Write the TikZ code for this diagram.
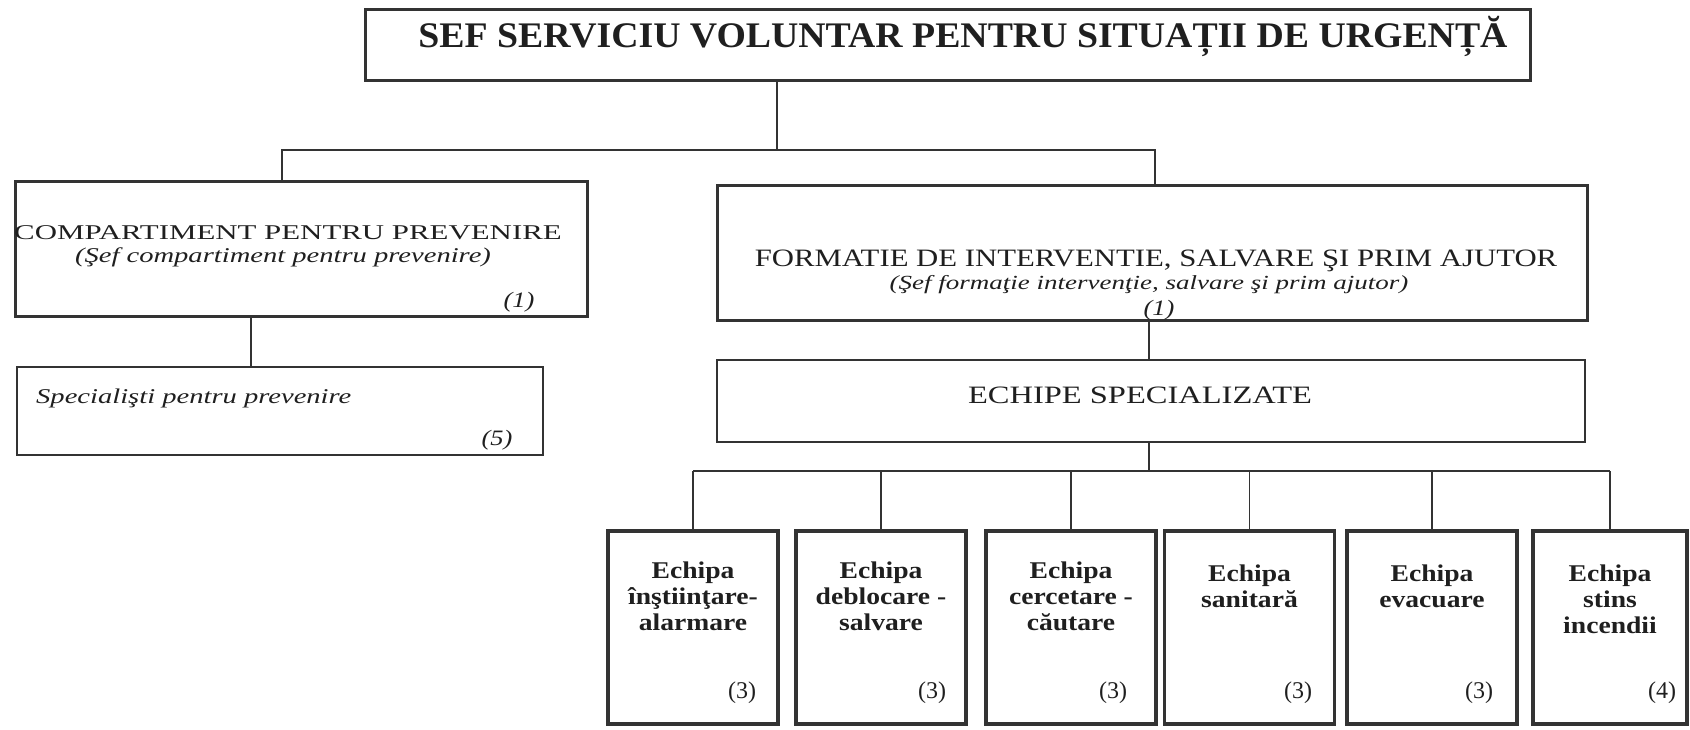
\documentclass[tikz,border=0pt]{standalone}
\usepackage{fontspec}
\setmainfont{Liberation Serif}
\usepackage{graphicx}
\newcommand\sx[2]{\scalebox{#1}[1]{#2}}
\newcommand\fs[1]{\fontsize{#1pt}{#1pt}\selectfont}
\begin{document}
\begin{tikzpicture}[x=1pt,y=-1pt,
  thickbox/.style={draw=black!80,line width=3pt,inner sep=0pt,outer sep=0pt,rectangle},
  thinbox/.style={draw=black!80,line width=1.4pt,inner sep=0pt,outer sep=0pt,rectangle},
  teambox/.style={thickbox,line width=3.5pt,minimum width=170pt,minimum height=193pt},
  conn/.style={draw=black!80,line width=1.3pt},
  txt/.style={anchor=base,inner sep=0pt,text=black!88},
  teamtxt/.style={anchor=north,inner sep=0pt,text=black!88,align=center,
    font=\bfseries\fontsize{24pt}{26pt}\selectfont}]
\useasboundingbox (0,0) rectangle (1690,730);

% boxes
\node[thickbox,minimum width=1165pt,minimum height=71pt] (title) at (947.5,45.5) {};
\node[thickbox,minimum width=572pt,minimum height=134pt] (comp) at (301,249) {};
\node[thinbox,minimum width=526pt,minimum height=88pt] (spec) at (280,411) {};
\node[thickbox,minimum width=870pt,minimum height=134pt] (form) at (1152,253) {};
\node[thinbox,minimum width=868pt,minimum height=82pt] (echipe) at (1151,401) {};
\node[teambox] (t1) at (693,627.5) {};
\node[teambox] (t2) at (881,627.5) {};
\node[teambox] (t3) at (1071,627.5) {};
\node[teambox] (t4) at (1249.5,627.5) {};
\node[teambox] (t5) at (1432,627.5) {};
\node[teambox,minimum width=154pt] (t6) at (1610,627.5) {};

% connector junctions
\coordinate (j0) at (777,150);
\coordinate (jl) at (282,150);
\coordinate (jr) at (1155,150);
\coordinate (cs) at (251,340);
\coordinate (fe) at (1149,340);
\coordinate (eb) at (1149,471);

\draw[conn] (title.south -| j0) -- (j0);
\draw[conn] (comp.north -| jl) -- (jl) -- (jr) -- (form.north -| jr);
\draw[conn] (comp.south -| cs) -- (spec.north -| cs);
\draw[conn] (form.south -| fe) -- (echipe.north -| fe);
\draw[conn] (echipe.south -| eb) -- (eb);
\draw[conn] (t1.north |- eb) -- (t6.north |- eb);
\foreach \i in {1,...,6} \draw[conn] (t\i.north) -- (t\i.north |- eb);

% texts
\node[txt] (titletxt) at (963,48) {\sx{1.05}{\bfseries\fs{36}SEF SERVICIU VOLUNTAR PENTRU SITUAȚII DE URGENȚĂ}};

\node[txt] (comptxt) at (288,240) {\sx{1.47}{\fs{21}COMPARTIMENT PENTRU PREVENIRE}};
\node[txt] (compsub) at (283,263) {\sx{1.36}{\itshape\fs{21}(Şef compartiment pentru prevenire)}};
\node[txt] (compnum) at (519,308) {\sx{1.2}{\itshape\fs{22}(1)}};

\node[txt,anchor=base west] (spectxt) at (36,403) {\sx{1.36}{\itshape\fs{21}Specialişti pentru prevenire}};
\node[txt] (specnum) at (497,445) {\sx{1.2}{\itshape\fs{22}(5)}};

\node[txt] (formtxt) at (1156,266) {\sx{1.23}{\fs{25}FORMATIE DE INTERVENTIE, SALVARE ŞI PRIM AJUTOR}};
\node[txt] (formsub) at (1149,289) {\sx{1.35}{\itshape\fs{20}(Şef formaţie intervenţie, salvare şi prim ajutor)}};
\node[txt] (formnum) at (1159,315) {\sx{1.2}{\itshape\fs{22}(1)}};

\node[txt] (echtxt) at (1140,403) {\sx{1.3}{\fs{25}ECHIPE SPECIALIZATE}};

\node[teamtxt] (n1) at (693,562) {\sx{1.15}{Echipa}\\\sx{1.15}{înştiinţare-}\\\sx{1.15}{alarmare}};
\node[teamtxt] (n2) at (881,562) {\sx{1.15}{Echipa}\\\sx{1.15}{deblocare -}\\\sx{1.15}{salvare}};
\node[teamtxt] (n3) at (1071,562) {\sx{1.15}{Echipa}\\\sx{1.15}{cercetare -}\\\sx{1.15}{căutare}};
\node[teamtxt] (n4) at (1249.5,565) {\sx{1.15}{Echipa}\\\sx{1.15}{sanitară}};
\node[teamtxt] (n5) at (1432,565) {\sx{1.15}{Echipa}\\\sx{1.15}{evacuare}};
\node[teamtxt] (n6) at (1610,565) {\sx{1.15}{Echipa}\\\sx{1.15}{stins}\\\sx{1.15}{incendii}};

\foreach \i/\x/\n in {1/742/3,2/932/3,3/1113/3,4/1298/3,5/1479/3,6/1662/4}
  \node[txt,font=\fs{24}] (num\i) at (\x,698) {(\n)};
\end{tikzpicture}
\end{document}
